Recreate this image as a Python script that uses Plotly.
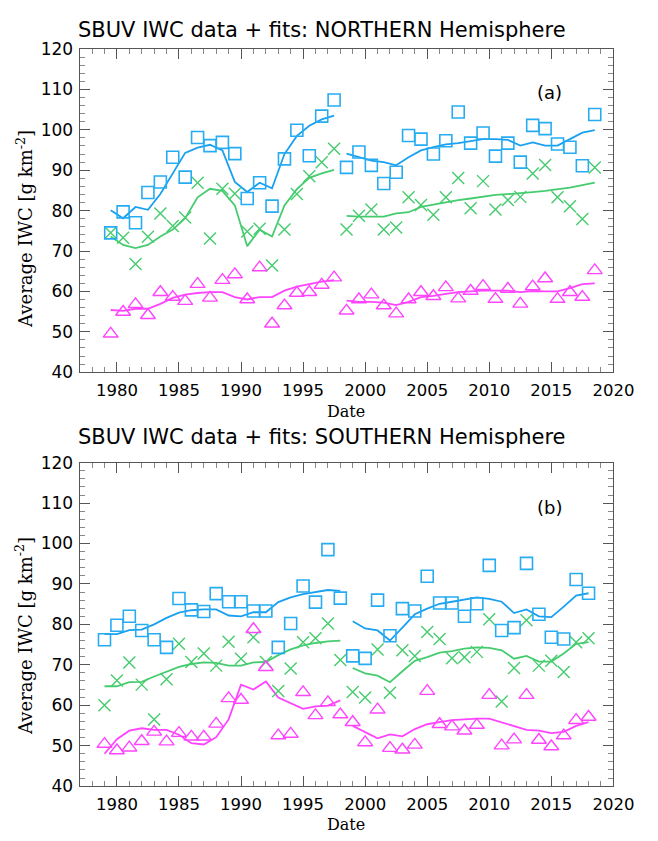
import plotly.graph_objects as go

# ---------------- data ----------------
# Panel (a): Northern Hemisphere (mid-year points)
years_a1 = [1979.5, 1980.5, 1981.5, 1982.5, 1983.5, 1984.5, 1985.5, 1986.5, 1987.5, 1988.5,
            1989.5, 1990.5, 1991.5, 1992.5, 1993.5, 1994.5, 1995.5, 1996.5, 1997.5]
years_a2 = [1998.5, 1999.5, 2000.5, 2001.5, 2002.5, 2003.5, 2004.5, 2005.5, 2006.5, 2007.5,
            2008.5, 2009.5, 2010.5, 2011.5, 2012.5, 2013.5, 2014.5, 2015.5, 2016.5, 2017.5, 2018.5]

blue_a1 = [74.5, 79.7, 77.0, 84.5, 87.1, 93.2, 88.3, 98.1, 96.1, 96.9, 94.1, 83.0, 86.9, 81.1,
           92.8, 99.9, 93.6, 103.4, 107.4]
blue_fit_a1 = [80.1, 78.1, 80.9, 80.2, 84.1, 89.3, 94.3, 95.6, 96.3, 94.9, 87.1, 84.6, 86.9, 85.5,
               94.0, 98.5, 101.0, 102.6, 103.5]
green_a1 = [74.5, 73.3, 66.8, 73.5, 79.3, 76.2, 78.3, 86.9, 73.1, 85.4, 84.2, 74.8, 75.5, 66.4,
            75.3, 84.1, 88.5, 92.0, 95.3]
green_fit_a1 = [73.6, 71.5, 70.7, 71.5, 73.6, 75.3, 78.1, 83.3, 85.4, 84.9, 81.3, 71.2, 75.3, 73.6,
                81.3, 85.3, 88.1, 89.2, 90.1]
mag_a1 = [49.5, 54.9, 56.8, 54.1, 59.8, 58.6, 57.6, 61.8, 58.4, 62.8, 64.2, 58.0, 65.9, 52.0,
          56.5, 59.6, 59.8, 61.6, 63.4]
mag_fit_a1 = [55.4, 55.2, 55.7, 55.7, 56.9, 58.4, 59.2, 59.6, 59.8, 59.8, 58.6, 58.0, 58.6, 58.6,
              60.2, 61.2, 61.8, 62.4, 62.8]

blue_a2 = [90.7, 94.5, 91.2, 86.7, 89.5, 98.6, 97.7, 94.0, 97.3, 104.4, 96.7, 99.2, 93.5, 96.7,
           92.0, 101.1, 100.3, 96.5, 95.7, 91.1, 103.8]
blue_fit_a2 = [94.1, 93.2, 92.4, 92.0, 91.2, 93.2, 94.9, 95.7, 96.4, 96.7, 97.2, 97.7, 97.7, 97.5,
               96.1, 96.9, 96.1, 96.1, 97.7, 99.3, 99.9]
green_a2 = [75.3, 78.7, 80.3, 75.3, 75.8, 83.3, 81.4, 79.0, 83.3, 88.1, 80.6, 87.3, 80.3, 82.6,
            83.4, 89.2, 91.3, 83.3, 81.1, 77.9, 90.7]
green_fit_a2 = [78.7, 78.5, 78.5, 78.5, 79.3, 79.6, 80.9, 81.5, 82.1, 82.6, 83.0, 83.4, 83.9, 84.1,
                84.3, 84.6, 84.9, 85.3, 85.7, 86.3, 86.9]
mag_a2 = [55.2, 58.0, 59.2, 56.5, 54.5, 58.0, 59.8, 58.8, 61.0, 58.2, 60.1, 61.3, 58.1, 60.6,
          56.9, 61.2, 63.2, 58.1, 59.8, 58.6, 65.2]
mag_fit_a2 = [57.7, 57.4, 57.4, 57.2, 56.6, 57.4, 58.6, 58.9, 59.4, 59.8, 60.0, 60.2, 60.2, 60.2,
              59.8, 60.1, 60.0, 60.0, 60.8, 61.8, 62.0]

# Panel (b): Southern Hemisphere (start-of-year points)
years_b1 = [1979, 1980, 1981, 1982, 1983, 1984, 1985, 1986, 1987, 1988,
            1989, 1990, 1991, 1992, 1993, 1994, 1995, 1996, 1997, 1998]
years_b2 = [1999, 2000, 2001, 2002, 2003, 2004, 2005, 2006, 2007, 2008,
            2009, 2010, 2011, 2012, 2013, 2014, 2015, 2016, 2017, 2018]

blue_b1 = [76.2, 79.8, 82.0, 78.5, 76.2, 74.3, 86.4, 83.6, 83.2, 87.6, 85.6, 85.6, 83.3, 83.3,
           74.3, 80.2, 89.5, 85.5, 98.5, 86.5]
blue_fit_b1 = [77.6, 77.6, 78.6, 78.7, 80.0, 81.6, 82.9, 83.5, 83.7, 83.7, 82.2, 82.0, 83.0, 83.0,
               85.5, 86.7, 87.5, 88.0, 88.5, 88.3]
green_b1 = [60.0, 66.1, 70.6, 65.1, 56.5, 66.4, 75.2, 70.7, 72.8, 69.8, 75.7, 71.5, 76.8, 70.7,
            63.5, 69.1, 75.6, 76.6, 80.2, 71.2]
green_fit_b1 = [64.7, 64.7, 65.7, 65.8, 67.1, 68.4, 69.5, 70.2, 70.6, 70.5, 69.8, 69.8, 70.6, 70.7,
                72.4, 73.8, 74.8, 75.4, 75.8, 76.0]
mag_b1 = [50.4, 48.8, 49.5, 51.1, 53.4, 51.0, 53.1, 52.2, 52.2, 55.4, 61.7, 61.3, 78.8, 69.4,
          52.5, 52.9, 63.2, 57.5, 60.7, 57.7]
mag_fit_b1 = [48.0, 51.6, 53.7, 54.3, 53.9, 53.9, 52.7, 50.6, 50.3, 52.1, 56.5, 65.1, 63.9, 65.9,
              61.9, 60.5, 59.1, 59.7, 59.9, 61.2]

blue_b2 = [72.2, 71.6, 86.0, 77.2, 83.9, 83.3, 91.9, 85.3, 85.3, 82.0, 85.1, 94.6, 78.5, 79.2,
           95.1, 82.5, 76.8, 76.4, 91.1, 87.7]
blue_fit_b2 = [80.8, 79.0, 78.5, 76.0, 79.2, 82.5, 83.9, 85.1, 85.6, 86.1, 86.7, 86.3, 85.6, 82.8,
               83.7, 82.0, 81.8, 84.4, 87.1, 87.7]
green_b2 = [63.3, 61.9, 73.8, 63.1, 73.6, 72.2, 78.1, 76.4, 71.6, 71.9, 73.2, 81.3, 60.9, 69.2,
            81.0, 69.8, 71.0, 68.2, 75.6, 76.6]
green_fit_b2 = [69.2, 67.9, 67.3, 65.7, 68.4, 71.0, 71.9, 73.0, 73.4, 74.0, 74.3, 74.2, 73.6, 71.5,
                72.2, 70.8, 70.8, 72.8, 75.2, 75.6]
mag_b2 = [55.8, 50.8, 58.9, 49.4, 49.0, 50.2, 63.5, 55.3, 54.7, 53.7, 55.1, 62.5, 50.0, 51.5,
          62.5, 51.4, 49.8, 52.5, 56.3, 57.1]
mag_fit_b2 = [54.9, 53.4, 51.8, 52.8, 52.3, 54.1, 55.3, 55.8, 56.3, 56.5, 56.7, 56.7, 55.8, 54.9,
              53.9, 53.7, 53.1, 53.4, 54.9, 55.8]

titles = ["SBUV IWC data + fits: NORTHERN Hemisphere", "SBUV IWC data + fits: SOUTHERN Hemisphere"]
panel_labels = ["(a)", "(b)"]

# ---------------- style ----------------
W, H = 658, 841
BLUE_M, BLUE_L = "#26acf2", "#1aa0f0"
GREEN = "#45cc6e"
MAG = "#ff44ff"
AXC = "#555555"
X0, X1 = 82.3, 633.6
PANELS = [(40.0, 371.0), (463.7, 795.0)]


def px(x):
    return x / W


def py(y):
    return 1 - y / H


fig = go.Figure()


def add_panel(i, segs):
    xa = "x" if i == 0 else "x2"
    ya = "y" if i == 0 else "y2"
    for (yrs, b, bf, g, gf, m, mf) in segs:
        fig.add_trace(go.Scatter(x=yrs, y=gf, mode="lines", line=dict(color=GREEN, width=1.8),
                                 xaxis=xa, yaxis=ya, hoverinfo="skip"))
        fig.add_trace(go.Scatter(x=yrs, y=mf, mode="lines", line=dict(color=MAG, width=1.8),
                                 xaxis=xa, yaxis=ya, hoverinfo="skip"))
        fig.add_trace(go.Scatter(x=yrs, y=bf, mode="lines", line=dict(color=BLUE_L, width=1.8),
                                 xaxis=xa, yaxis=ya, hoverinfo="skip"))
        fig.add_trace(go.Scatter(x=yrs, y=g, mode="markers",
                                 marker=dict(symbol="x-thin-open", size=12, color=GREEN,
                                             line=dict(color=GREEN, width=1.4)),
                                 xaxis=xa, yaxis=ya))
        fig.add_trace(go.Scatter(x=yrs, y=m, mode="markers",
                                 marker=dict(symbol="triangle-up-open", size=13, color=MAG,
                                             line=dict(color=MAG, width=1.4)),
                                 xaxis=xa, yaxis=ya))
        fig.add_trace(go.Scatter(x=yrs, y=b, mode="markers",
                                 marker=dict(symbol="square-open", size=12, color=BLUE_M,
                                             line=dict(color=BLUE_M, width=1.6)),
                                 xaxis=xa, yaxis=ya))


add_panel(0, [(years_a1, blue_a1, blue_fit_a1, green_a1, green_fit_a1, mag_a1, mag_fit_a1),
              (years_a2, blue_a2, blue_fit_a2, green_a2, green_fit_a2, mag_a2, mag_fit_a2)])
add_panel(1, [(years_b1, blue_b1, blue_fit_b1, green_b1, green_fit_b1, mag_b1, mag_fit_b1),
              (years_b2, blue_b2, blue_fit_b2, green_b2, green_fit_b2, mag_b2, mag_fit_b2)])

xcommon = dict(range=[1977, 2020], tickmode="linear", tick0=1980, dtick=5, ticks="inside",
               ticklen=10, tickwidth=1, tickcolor=AXC, showline=True, linecolor=AXC,
               linewidth=1.2, mirror="ticks", showgrid=False, zeroline=False,
               tickfont=dict(family="DejaVu Sans", size=16.5, color="black"),
               minor=dict(dtick=1, ticks="inside", ticklen=5, tickcolor="#888888",
                          showgrid=False),
               domain=[px(X0), px(X1)], ticklabelstandoff=3)
ycommon = dict(range=[40, 120], tickmode="linear", tick0=40, dtick=10, ticks="inside",
               ticklen=10, tickwidth=1, tickcolor=AXC, showline=True, linecolor=AXC,
               linewidth=1.2, mirror="ticks", showgrid=False, zeroline=False,
               tickfont=dict(family="DejaVu Sans", size=17, color="black"),
               minor=dict(dtick=2, ticks="inside", ticklen=5, tickcolor="#888888",
                          showgrid=False), ticklabelstandoff=2)

fig.update_layout(
    width=W, height=H, margin=dict(l=0, r=0, t=0, b=0),
    paper_bgcolor="white", plot_bgcolor="white", showlegend=False,
    xaxis=dict(xcommon, anchor="y"),
    xaxis2=dict(xcommon, anchor="y2"),
    yaxis=dict(ycommon, anchor="x", domain=[py(PANELS[0][1]), py(PANELS[0][0])]),
    yaxis2=dict(ycommon, anchor="x2", domain=[py(PANELS[1][1]), py(PANELS[1][0])]),
)

ann = []
title_y = [20, 437]
label_y = [85, 510]
date_y = [411, 834]
ytitle_y = [224, 641]
for i in range(2):
    ann.append(dict(text=titles[i], x=px(333), y=py(title_y[i]), xref="paper", yref="paper",
                    showarrow=False, xanchor="center", yanchor="middle",
                    font=dict(family="DejaVu Sans", size=21, color="black")))
    ann.append(dict(text=panel_labels[i], x=px(568), y=py(label_y[i]), xref="paper", yref="paper",
                    showarrow=False, xanchor="center", yanchor="middle",
                    font=dict(family="DejaVu Sans", size=18, color="black")))
    ann.append(dict(text="Date", x=px(357), y=py(date_y[i]), xref="paper", yref="paper",
                    showarrow=False, xanchor="center", yanchor="middle",
                    font=dict(family="DejaVu Serif", size=16, color="black")))
    ann.append(dict(text="Average IWC [g km<sup>-2</sup>]", x=px(25), y=py(ytitle_y[i]),
                    xref="paper", yref="paper", showarrow=False, textangle=-90,
                    xanchor="center", yanchor="middle",
                    font=dict(family="DejaVu Serif", size=18, color="black")))
fig.update_layout(annotations=ann)

fig.write_html("out.html")
